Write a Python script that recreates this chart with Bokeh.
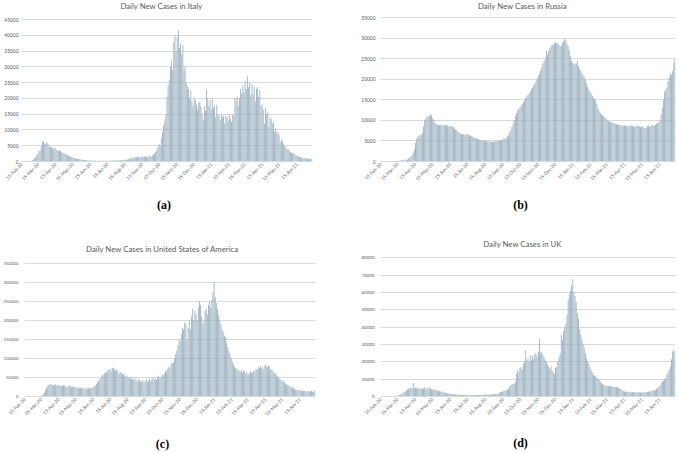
import math
import pandas as pd
from bokeh.plotting import figure
from bokeh.layouts import row, column
from bokeh.models import (Range1d, FixedTicker, BasicTickFormatter, Label,
                          ColumnDataSource, DatetimeTickFormatter)
from bokeh.embed import file_html
from bokeh.resources import INLINE

# ---------------- data ----------------
START_DATE = "2020-02-15"
END_DATE = "2021-07-13"
STEP_DAYS = 2          # one bar = two days

TICK_LABELS = ["15-Feb-20", "15-Mar-20", "15-Apr-20", "15-May-20", "15-Jun-20",
               "15-Jul-20", "15-Aug-20", "15-Sep-20", "15-Oct-20", "15-Nov-20",
               "15-Dec-20", "15-Jan-21", "15-Feb-21", "15-Mar-21", "15-Apr-21",
               "15-May-21", "15-Jun-21"]

TITLES = ["Daily New Cases in Italy", "Daily New Cases in Russia",
          "Daily New Cases in United States of America", "Daily New Cases in UK"]
PANEL_LABELS = ["(a)", "(b)", "(c)", "(d)"]

# Italy, hundreds of cases
ITALY = [0, 0, 0, 0, 0,
         0, 1, 1, 2, 4,
         6, 9, 15, 20, 26,
         33, 35, 48, 62, 65,
         55, 58, 60, 55, 48,
         47, 46, 40, 42, 44,
         38, 36, 34, 33, 35,
         30, 27, 28, 24, 23,
         20, 19, 16, 15, 14,
         12, 11, 10, 9, 8,
         8, 7, 6, 6, 5,
         5, 4, 4, 3, 3,
         3, 3, 3, 2, 3,
         2, 2, 2, 2, 2,
         2, 2, 2, 2, 2,
         2, 2, 2, 3, 2,
         3, 3, 3, 3, 3,
         3, 4, 4, 5, 4,
         5, 6, 5, 6, 7,
         8, 10, 12, 13, 11,
         14, 13, 15, 16, 12,
         15, 16, 14, 15, 17,
         16, 13, 18, 19, 15,
         20, 22, 25, 30, 38,
         45, 55, 50, 75, 95,
         115, 130, 150, 205, 240,
         260, 300, 320, 290, 380,
         400, 350, 395, 415, 360,
         375, 340, 370, 290, 300,
         250, 240, 230, 200, 225,
         190, 175, 200, 195, 180,
         165, 185, 190, 175, 150,
         130, 175, 160, 230, 200,
         175, 195, 165, 200, 170,
         175, 140, 180, 150, 145,
         130, 150, 140, 145, 120,
         145, 140, 130, 150, 135,
         125, 150, 145, 200, 190,
         205, 175, 200, 230, 215,
         240, 220, 255, 230, 270,
         235, 250, 210, 245, 215,
         240, 190, 230, 235, 205,
         225, 175, 180, 165, 120,
         170, 150, 155, 110, 140,
         135, 120, 125, 95, 105,
         90, 95, 85, 60, 70,
         65, 55, 50, 45, 40,
         40, 35, 30, 28, 25,
         27, 22, 20, 18, 16,
         15, 13, 13, 11, 12,
         11, 10, 9, 9, 10,
         8, 9]

# Russia, hundreds of cases
RUSSIA = [0, 0, 0, 0, 0,
          0, 0, 0, 0, 0,
          0, 0, 0, 0, 1,
          1, 2, 2, 3, 5,
          2, 3, 4, 5, 7,
          9, 12, 16, 22, 30,
          45, 55, 60, 62, 65,
          64, 70, 85, 100, 105,
          108, 112, 110, 115, 112,
          105, 100, 95, 92, 90,
          88, 89, 90, 88, 87,
          89, 90, 88, 87, 85,
          86, 87, 85, 84, 80,
          78, 76, 72, 70, 68,
          67, 66, 66, 65, 66,
          66, 65, 64, 63, 61,
          60, 58, 57, 56, 55,
          54, 53, 52, 52, 51,
          51, 50, 50, 49, 49,
          49, 48, 48, 48, 49,
          49, 50, 50, 51, 52,
          52, 53, 55, 56, 58,
          61, 64, 70, 76, 84,
          92, 100, 110, 118, 125,
          128, 132, 136, 140, 145,
          150, 155, 158, 162, 166,
          170, 176, 180, 186, 190,
          196, 202, 208, 214, 222,
          230, 238, 244, 250, 270,
          260, 268, 275, 280, 285,
          284, 288, 290, 286, 289,
          284, 280, 282, 288, 292,
          298, 294, 286, 280, 270,
          255, 245, 240, 238, 235,
          238, 245, 232, 225, 220,
          215, 210, 205, 198, 190,
          182, 176, 170, 165, 160,
          155, 152, 148, 140, 130,
          122, 118, 114, 112, 110,
          108, 104, 100, 98, 97,
          96, 95, 94, 93, 92,
          91, 90, 90, 89, 88,
          88, 87, 88, 86, 87,
          85, 86, 87, 88, 86,
          85, 84, 86, 88, 87,
          85, 83, 84, 86, 82,
          80, 82, 86, 88, 84,
          86, 90, 88, 87, 90,
          92, 95, 94, 100, 115,
          130, 150, 170, 175, 180,
          195, 205, 215, 210, 220,
          240, 250]

# United States of America, thousands of cases
USA = [0, 0, 0, 0, 0,
       0, 0, 0, 0, 0,
       0, 0, 0, 0,
       1, 2, 5, 10, 17, 22,
       27, 31, 33, 32, 30,
       31, 29, 32, 28, 30,
       31, 29, 27, 28, 30,
       29, 26, 25, 27, 30,
       26, 24, 25, 27, 23,
       25, 22, 24, 21, 22,
       24, 20, 22, 21, 19,
       22, 21, 23, 20, 23,
       24, 26, 28, 33, 38,
       42, 45, 50, 55, 57,
       60, 63, 62, 68, 70,
       72, 66, 74, 76, 70,
       68, 72, 66, 60, 64,
       62, 58, 60, 56, 52,
       55, 50, 48, 52, 45,
       47, 43, 48, 40, 44,
       42, 46, 38, 40, 43,
       36, 40, 45, 38, 42,
       47, 40, 45, 50, 44,
       48, 43, 50, 55, 47,
       52, 58, 55, 60, 67,
       65, 72, 78, 75, 85,
       90, 88, 100, 112, 120,
       135, 150, 145, 165, 180,
       175, 195, 190, 150, 180,
       200, 175, 210, 230, 200,
       225, 215, 200, 235, 250,
       240, 210, 190, 200, 225,
       230, 215, 240, 250, 235,
       255, 275, 300, 260, 245,
       230, 215, 200, 190, 175,
       170, 160, 155, 140, 130,
       120, 112, 100, 92, 85,
       78, 75, 70, 72, 68,
       65, 70, 62, 68, 66,
       60, 64, 58, 62, 66,
       60, 64, 68, 65, 72,
       70, 78, 74, 80, 76,
       70, 78, 84, 80, 76,
       82, 78, 70, 72, 66,
       62, 60, 56, 50, 52,
       46, 44, 40, 42, 36,
       35, 30, 32, 28, 26,
       24, 25, 22, 20, 18,
       18, 17, 16, 18, 15,
       14, 16, 15, 13, 14,
       15, 13, 14, 16, 12,
       14, 16]

# UK, hundreds of cases
UK = [0, 0, 0, 0, 0,
      0, 0, 0, 0, 1,
      1, 1, 2, 3, 5,
      7, 9, 12, 15, 20,
      26, 30, 35, 40, 45,
      48, 50, 46, 78, 48,
      50, 47, 52, 45, 48,
      46, 42, 48, 55, 44,
      47, 52, 45, 50, 42,
      40, 44, 36, 38, 34,
      32, 30, 28, 30, 26,
      24, 22, 20, 18, 17,
      16, 15, 14, 13, 12,
      12, 11, 11, 10, 10,
      9, 9, 8, 8, 8,
      7, 7, 7, 7, 8,
      7, 8, 8, 8, 9,
      8, 9, 9, 10, 9,
      10, 10, 11, 11, 12,
      12, 13, 12, 13, 14,
      15, 16, 18, 22, 26,
      28, 30, 32, 35, 38,
      40, 45, 58, 65, 70,
      72, 75, 85, 130, 150,
      140, 165, 170, 155, 190,
      200, 265, 210, 220, 200,
      240, 210, 235, 220, 250,
      245, 230, 260, 330, 250,
      260, 240, 225, 210, 200,
      185, 170, 160, 175, 150,
      140, 130, 165, 170, 200,
      230, 250, 355, 330, 380,
      400, 420, 470, 560, 590,
      610, 640, 677, 600, 580,
      545, 480, 450, 390, 360,
      330, 300, 280, 250, 220,
      205, 190, 170, 155, 138,
      125, 120, 115, 110, 100,
      95, 85, 80, 72, 68,
      65, 62, 60, 62, 58,
      60, 56, 58, 55, 54,
      55, 52, 50, 46, 42,
      38, 32, 30, 28, 27,
      28, 26, 27, 25, 26,
      25, 24, 25, 23, 24,
      25, 24, 22, 23, 25,
      24, 26, 27, 28, 30,
      31, 33, 35, 34, 38,
      45, 48, 55, 65, 78,
      85, 92, 100, 108, 125,
      140, 156, 175, 215, 260,
      270, 250]

ITALY_YTICKS = [0, 5000, 10000, 15000, 20000, 25000, 30000, 35000, 40000, 45000]
RUSSIA_YTICKS = [0, 5000, 10000, 15000, 20000, 25000, 30000, 35000]
USA_YTICKS = [0, 50000, 100000, 150000, 200000, 250000, 300000, 350000]
UK_YTICKS = [0, 10000, 20000, 30000, 40000, 50000, 60000, 70000, 80000]

# ---------------- style ----------------
BAR = "#9fb4c2"
GRID = "#d9d9d9"
TXT = "#595959"
FONT = "Lato"
SERIF = "Liberation Serif"
DAY_MS = 86400000
NBSP = "\u00a0"


def panel(title, values, unit, yticks, label, geom, fonts, pos):
    # geom: canvas width/height, left/right/bottom borders, gap above top gridline
    W, H, left, right, bottom, top_gap = geom
    ysize, xsize, ystand = fonts
    tx, ty, lab_stand, lab_pad, lab_lh = pos
    frame_h = H - bottom
    y_end = yticks[-1] * frame_h / (frame_h - top_gap)   # room for the title

    x = pd.date_range(START_DATE, periods=len(values), freq=f"{STEP_DAYS}D") \
        + pd.Timedelta(days=STEP_DAYS / 2)
    src = ColumnDataSource(dict(x=x, top=[v * unit for v in values]))
    p = figure(width=W, height=H, x_axis_type="datetime",
               x_range=Range1d(pd.Timestamp(START_DATE), pd.Timestamp(END_DATE)),
               y_range=Range1d(0, y_end),
               output_backend="svg", toolbar_location=None,
               min_border_left=left, min_border_right=right,
               min_border_top=0, min_border_bottom=bottom)
    p.vbar(x="x", top="top", width=STEP_DAYS * DAY_MS * 0.8, source=src,
           fill_color=BAR, line_color=None)

    tick_dates = pd.to_datetime(TICK_LABELS, format="%d-%b-%y")
    tick_ms = [t.value / 1e6 for t in tick_dates]
    p.xaxis.ticker = FixedTicker(ticks=tick_ms)
    p.xaxis.formatter = DatetimeTickFormatter(days="%d-%b-%y", months="%d-%b-%y",
                                              years="%d-%b-%y")
    p.xaxis.major_label_overrides = {ms: lab for ms, lab in zip(tick_ms, TICK_LABELS)}
    p.xaxis.major_label_orientation = math.pi / 4
    p.xaxis.axis_line_color = GRID
    p.xaxis.major_tick_line_color = None
    p.xaxis.minor_tick_line_color = None
    p.xaxis.major_tick_out = 0
    p.xaxis.major_tick_in = 0
    p.xaxis.major_label_standoff = 2
    p.xaxis.major_label_text_font = FONT
    p.xaxis.major_label_text_font_size = xsize
    p.xaxis.major_label_text_color = TXT
    # panel letter below the chart (trailing no-break spaces nudge it left)
    p.xaxis.axis_label = label + NBSP * lab_pad
    p.xaxis.axis_label_standoff = lab_stand
    p.xaxis.axis_label_text_font = SERIF
    p.xaxis.axis_label_text_font_style = "bold"
    p.xaxis.axis_label_text_font_size = "12px"
    p.xaxis.axis_label_text_line_height = lab_lh
    p.xaxis.axis_label_text_color = "black"

    p.yaxis.ticker = FixedTicker(ticks=yticks)
    p.yaxis.formatter = BasicTickFormatter(use_scientific=False)
    p.yaxis.axis_line_color = None
    p.yaxis.major_tick_line_color = None
    p.yaxis.minor_tick_line_color = None
    p.yaxis.major_tick_out = 0
    p.yaxis.major_tick_in = 0
    p.yaxis.major_label_standoff = ystand
    p.yaxis.major_label_text_font = FONT
    p.yaxis.major_label_text_font_size = ysize
    p.yaxis.major_label_text_color = TXT

    p.xgrid.grid_line_color = None
    p.ygrid.ticker = FixedTicker(ticks=yticks)
    p.ygrid.grid_line_color = GRID
    p.ygrid.grid_line_width = 1

    p.outline_line_color = None
    p.background_fill_color = "white"
    p.border_fill_color = "white"

    p.add_layout(Label(x=tx, y=ty, x_units="screen", y_units="screen", text=title,
                       text_align="center", text_baseline="middle",
                       text_font=FONT, text_font_size="7.8px", text_color=TXT))
    return p


pa = panel(TITLES[0], ITALY, 100, ITALY_YTICKS, PANEL_LABELS[0],
           (340, 225, 21, 28, 64, 19), ("4.9px", "4.6px", 3), (140, 156, 11, 2, 1.2))
pb = panel(TITLES[1], RUSSIA, 100, RUSSIA_YTICKS, PANEL_LABELS[1],
           (339, 225, 40, 4, 64, 17), ("4.9px", "4.6px", 5), (142, 156, 11, 5, 1.2))
pc = panel(TITLES[2], USA, 1000, USA_YTICKS, PANEL_LABELS[2],
           (340, 228, 24, 25, 55, 38), ("4.3px", "4.6px", 6), (138, 148, 15, 5, 1.0))
pd_ = panel(TITLES[3], UK, 100, UK_YTICKS, PANEL_LABELS[3],
            (339, 228, 40, 4, 54, 33), ("4.5px", "4.6px", 6), (142, 153, 14, 5, 1.0))

layout = column(row(pa, pb, spacing=0), row(pc, pd_, spacing=0), spacing=0)

open("out.html", "w").write(file_html(layout, INLINE))
